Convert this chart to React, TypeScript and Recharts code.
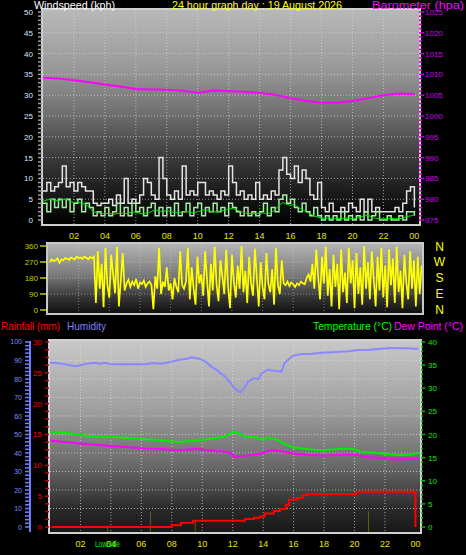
import React from 'react';
import { ComposedChart, Line, Bar, XAxis, YAxis, CartesianGrid } from 'recharts';

const FONT = '"Liberation Sans", Arial, sans-serif';

// ---------------- data ----------------
const hourTicks = [2, 4, 6, 8, 10, 12, 14, 16, 18, 20, 22, 24];
const hourLabels = ['02', '04', '06', '08', '10', '12', '14', '16', '18', '20', '22', '00'];
const gridHours = [2, 4, 6, 8, 10, 12, 14, 16, 18, 20, 22];

// wind, one value every 15 minutes from 00:00
const windStep = 0.25;
const windGust = [
  7, 9, 7, 8, 9, 13, 8, 9, 7, 9, 8, 7, 7, 4, 3.5, 4,
  4, 5, 3.5, 6, 4, 10, 4, 5, 4, 6, 10, 9, 6, 5, 15, 10,
  6, 5, 7, 5, 13, 6, 7, 6, 9, 9, 6, 7, 6, 5, 7, 6,
  13, 9, 6, 7, 5, 6, 5, 9, 5, 6, 5, 7, 6, 12, 15, 11,
  10, 13, 9, 12, 10, 6, 5, 9, 3, 2, 4, 2, 2, 3, 2, 4,
  3, 2, 5, 2, 5, 2, 3, 2, 2, 2, 2, 3, 2, 4, 7, 8, 3,
];
const windSpeed = [
  4, 2, 5, 3, 5, 3, 5, 2, 4, 5, 2, 4, 3, 1, 2, 1,
  3, 1, 2, 4, 1, 3, 1, 4, 2, 3, 1, 3, 4, 1, 3, 1,
  3, 1, 4, 1, 2, 4, 1, 3, 4, 1, 3, 2, 4, 2, 3, 1,
  4, 3, 2, 1, 3, 1, 2, 1, 2, 4, 1, 3, 2, 5, 6, 4,
  5, 3, 2, 4, 2, 1, 3, 1, 0, 1, 0, 1, 0, 2, 0, 1,
  0, 1, 0, 2, 0, 1, 2, 0, 0, 1, 0, 0, 1, 0, 2, 2, 1,
];
const windAvg = [
  4.5, 4.8, 5, 4.7, 4.6, 4.9, 5, 4.5, 4.2, 4.4, 4, 3.8, 3, 2, 1.8, 1.6,
  1.5, 1.6, 1.4, 1.5, 1.7, 1.6, 1.5, 2, 1.8, 1.6, 1.5, 1.7, 2, 2.5, 2.2, 1.9,
  2.4, 2, 1.8, 1.7, 1.9, 2.1, 1.8, 1.7, 2, 2.3, 2.5, 2.2, 1.9, 2, 2.2, 2.4,
  2.6, 2.8, 2.4, 2.1, 1.8, 1.5, 1.6, 1.5, 1.6, 1.7, 1.5, 1.8, 2.5, 3.5, 4.2, 3.8,
  3.5, 3.8, 3, 2.5, 2, 1.5, 1, 0.7, 0.5, 0.4, 0.5, 0.3, 0.4, 0.3, 0.5, 0.4,
  0.3, 0.5, 0.6, 1, 1.2, 0.6, 0.4, 0.3, 0.3, 0.3, 0.4, 0.3, 0.3, 0.4, 0.8, 1, 1.2,
];

const baroHours = [0, 1, 2, 3, 4, 5, 6, 7, 8, 9, 10, 11, 12, 13, 14, 15, 16, 17, 18, 19, 20, 21, 22, 23, 24];
const baroValues = [
  1009.2, 1009.0, 1008.6, 1008.1, 1007.6, 1007.1, 1006.5, 1006.4, 1006.3, 1006.1, 1005.6, 1006.1,
  1006.0, 1005.8, 1005.6, 1005.1, 1004.3, 1003.6, 1003.2, 1003.2, 1003.6, 1004.3, 1005.0, 1005.4, 1005.3,
];

// wind direction, one value every 7.5 minutes from 00:07
const dirStart = 0.125;
const dirStep = 0.125;
const dirSteadyWest = [270, 285, 275, 280, 290, 265, 285, 280, 292, 288, 282, 295, 290, 285, 300, 292, 296, 288, 300, 294, 285, 298, 290, 300];
const dirVariable1 = [40, 330, 120, 260, 15, 350, 140, 70, 310, 200, 95, 355, 20, 170, 320, 110];
const dirCalm1 = [150, 170, 130, 160, 140, 175, 120, 155, 145, 165, 130, 150, 160, 140];
const dirVariable2 = [5, 190, 120, 350, 90, 160, 130, 240, 110, 150, 60, 180, 130, 100, 330, 140, 120, 160];
const dirVariable3 = [
  350, 60, 240, 120, 30, 300, 150, 200, 80, 330, 170, 20, 260, 110, 355, 140, 50, 280, 190, 90,
  340, 130, 10, 310, 160, 70, 250, 120, 360, 100, 220, 40, 300, 150, 80, 345, 180, 20, 270, 130,
  60, 320, 150, 100, 230, 30, 350, 140, 90, 280,
];
const dirCalm2 = [150, 140, 160, 135, 155, 145, 130, 150, 140, 160, 150, 145];
const dirVariable4 = [
  180, 200, 160, 260, 120, 340, 190, 60, 300, 150, 355, 80, 230, 20, 310, 130, 260, 5, 340, 100,
  210, 40, 350, 150, 280, 10, 320, 90, 240, 30, 360, 120, 270, 60, 330, 180, 20, 300, 110, 350,
  70, 250, 15, 340, 140, 290, 40, 355, 100, 220, 10, 310, 160, 60, 330, 120, 280, 20, 300, 90, 250,
];
const dirTicks = [0, 90, 180, 270, 360];
const dirLetters = ['N', 'E', 'S', 'W', 'N'];

const humHours = [0, 0.5, 1, 1.5, 1.8, 2.2, 2.9, 3.3, 3.6, 4, 5, 6.2, 6.8, 7.3, 7.8, 8.4, 9, 9.3, 9.8, 10.2, 10.6, 11, 11.5, 11.8, 12.1, 12.5, 12.8, 13, 13.4, 13.7, 13.9, 14.3, 14.7, 15.2, 15.4, 15.9, 16.5, 17.2, 17.8, 18.5, 19.4, 20.2, 21, 22.2, 23, 24, 24.2];
const humValues = [88.8, 88.5, 88, 87.2, 87, 88, 88.8, 88.2, 88.8, 88, 88, 88, 88.6, 88.2, 89, 90.3, 91, 91.7, 91, 89.5, 86.7, 84.5, 81.2, 78.5, 75, 72.8, 75.5, 78.6, 80.4, 80, 83, 85, 84.5, 84, 88.5, 92.4, 93.5, 93.6, 94.2, 94.5, 94.8, 95.7, 95.8, 96.6, 96.7, 96.4, 96.3];

const tempHours = [0, 1, 1.8, 2.5, 2.9, 4, 5, 6.2, 7, 8.4, 9.2, 10, 10.8, 11.4, 11.8, 12.1, 12.5, 12.8, 13.6, 14, 14.3, 14.9, 15.5, 16, 17, 17.8, 18.8, 19.4, 20, 20.4, 21.5, 22.6, 23.3, 23.7, 24.2];
const tempValues = [20.5, 20.4, 20, 19.7, 19.5, 19.5, 19.3, 19, 18.8, 18.4, 18.6, 18.8, 19.2, 19.5, 20.2, 20.6, 20.1, 19.5, 19.4, 18.8, 19.4, 18.9, 17.8, 17.2, 16.8, 16.6, 16.8, 17, 16.8, 16.3, 16, 15.6, 15.5, 15.7, 16];

const dewHours = [0, 1.8, 3, 4, 5, 6.2, 7.5, 8.4, 9.7, 10.5, 11.4, 11.9, 12.1, 12.8, 13.3, 14, 14.5, 15.2, 16, 17, 18, 19, 20.1, 20.9, 22, 22.7, 23.5, 24.2];
const dewValues = [18.7, 18.1, 17.8, 17.5, 17.3, 17, 16.8, 16.6, 16.9, 16.6, 16.3, 16, 15.2, 15.4, 15.6, 16, 16.6, 16.4, 15.9, 15.6, 15.4, 15.6, 15.6, 15.1, 14.9, 14.6, 14.7, 14.8];

const rainHours = [0.1, 8, 8.6, 9.4, 12.8, 13.4, 13.8, 14.1, 14.7, 15.1, 15.5, 15.7, 16.2, 16.6, 16.9, 20.1, 23.95, 24];
const rainValues = [0, 0.3, 0.7, 1, 1.3, 1.5, 1.7, 2.2, 2.6, 2.9, 3.6, 4.4, 4.7, 5.2, 5.35, 5.7, 5.7, 0];

const rateHours = [3.8, 6.58, 9.53, 20.93];
const rateTops = [0.3, 2.5, 1.1, 2.5];
const rateBase = -0.75;

// ---------------- derived tables ----------------
const pairs = (hs: number[], vs: number[]) => hs.map((h, i) => ({ h, v: vs[i] }));
const stepped = (start: number, step: number, vs: number[]) => vs.map((v, i) => ({ h: start + i * step, v }));

const gustData = stepped(0, windStep, windGust);
const speedData = stepped(0, windStep, windSpeed);
const avgData = stepped(0, windStep, windAvg);
const baroData = pairs(baroHours, baroValues);
const dirData = stepped(dirStart, dirStep, [
  ...dirSteadyWest, ...dirVariable1, ...dirCalm1, ...dirVariable2, ...dirVariable3, ...dirCalm2, ...dirVariable4,
]);
const humData = pairs(humHours, humValues);
const tempData = pairs(tempHours, tempValues);
const dewData = pairs(dewHours, dewValues);
const rainData = pairs(rainHours, rainValues);
const rateData = rateHours.map((h, i) => ({ h, r: [rateBase, rateTops[i]] }));

const range = (a: number, b: number, s: number) => {
  const out: number[] = [];
  for (let v = a; v <= b + 1e-9; v += s) out.push(Math.round(v * 1000) / 1000);
  return out;
};
const windTicks = range(0, 50, 1);
const baroTicks = range(975, 1025, 1);
const humTicks = range(0, 100, 2);
const rainTicks = range(0, 30, 1.25);
const tempTicks = range(0, 40, 1);
// horizontal grid of the lower panel: every 10 % humidity = every 3 mm of rain
const lowerGridRain = [3, 6, 9, 12, 15, 18, 21, 24, 27];

// ---------------- tick renderers ----------------
const hourLabel = (v: number) => hourLabels[hourTicks.indexOf(v)] ?? '';

const TopXTick = (p: any) => (
  <text x={p.x} y={p.y + 15} textAnchor="middle" fontSize={9} fill="#e6e600" fontFamily={FONT}>{hourLabel(p.payload.value)}</text>
);
const BottomXTick = (p: any) => (
  <text x={p.x} y={p.y + 14.5} textAnchor="middle" fontSize={9} fill="#e6e600" fontFamily={FONT}>{hourLabel(p.payload.value)}</text>
);
const WindTick = (p: any) => {
  const v = p.payload.value;
  return (
    <g>
      <line x1={p.x - 5} x2={p.x - 1} y1={p.y} y2={p.y} stroke="#9c9c9c" strokeWidth={1.5} />
      {v % 5 === 0 && <text x={p.x - 10} y={p.y + 3} textAnchor="end" fontSize={8} fill="#dfe8ff" fontFamily={FONT}>{v}</text>}
    </g>
  );
};
const BaroTick = (p: any) => {
  const v = p.payload.value;
  const major = v % 5 === 0;
  return (
    <g>
      <line x1={p.x} x2={p.x + (major ? 5 : 3)} y1={p.y} y2={p.y} stroke="#d000d0" strokeWidth={1.5} />
      {major && <text x={p.x + 6} y={p.y + 3} textAnchor="start" fontSize={8} fill="#cc00ee" fontFamily={FONT}>{v}</text>}
    </g>
  );
};
const DirTick = (p: any) => (
  <g>
    <line x1={p.x - 8} x2={p.x - 2} y1={p.y} y2={p.y} stroke="#c8c800" strokeWidth={1.5} />
    <text x={p.x - 10} y={p.y + 3} textAnchor="end" fontSize={8} fill="#c8c800" fontFamily={FONT}>{p.payload.value}</text>
  </g>
);
const DirLetterTick = (p: any) => (
  <text x={p.x + 17.5} y={p.y + 4.5} textAnchor="middle" fontSize={12} fill="#ffff00" fontFamily={FONT}>
    {dirLetters[dirTicks.indexOf(p.payload.value)]}
  </text>
);
const HumTick = (p: any) => {
  const v = p.payload.value;
  const major = v % 10 === 0;
  return (
    <g>
      <line x1={p.x - 5} x2={p.x} y1={p.y} y2={p.y} stroke="#6f7fff" strokeWidth={1.5} />
      {major && <text x={p.x - 8} y={p.y + 2.5} textAnchor="end" fontSize={7} fill="#7f8fff" fontFamily={FONT}>{v}</text>}
    </g>
  );
};
const RainTick = (p: any) => {
  const v = p.payload.value;
  const major = v % 5 === 0;
  return (
    <g>
      <line x1={p.x - 5} x2={p.x - 1} y1={p.y} y2={p.y} stroke="#c00000" strokeWidth={1.5} />
      {major && <text x={p.x - 8} y={p.y + 3} textAnchor="end" fontSize={8} fill="#ff0000" fontFamily={FONT}>{v}</text>}
    </g>
  );
};
const TempTick = (p: any) => {
  const v = p.payload.value;
  const major = v % 5 === 0;
  return (
    <g>
      <line x1={p.x + 1} x2={p.x + (major ? 5 : 3)} y1={p.y} y2={p.y} stroke="#00c000" strokeWidth={1.5} />
      {major && <text x={p.x + 8} y={p.y + 3} textAnchor="start" fontSize={8} fill="#00ee00" fontFamily={FONT}>{v}</text>}
    </g>
  );
};

const panel = (left: number, top: number, w: number, h: number, bg: string, border: string): React.CSSProperties => ({
  position: 'absolute', left: left - 2, top: top - 2, width: w, height: h,
  border: `2px solid ${border}`, background: bg, backgroundClip: 'padding-box',
});

const Title = ({ x, y, w, color, children, anchor }: any) => (
  <text x={x} y={y} fill={color} fontSize={11} fontFamily={FONT} textLength={w} lengthAdjust="spacingAndGlyphs" textAnchor={anchor || 'start'}>{children}</text>
);

export default function App() {
  return (
    <div style={{ position: 'absolute', left: 0, top: 0, width: 466, height: 555, background: '#000', overflow: 'hidden' }}>
      {/* ---------- top panel: wind speed & barometer ---------- */}
      <div style={panel(43, 10, 376, 214, 'linear-gradient(#b8b8b8 0%, #989898 28%, #707070 48%, #383838 70%, #121212 90%, #000 100%)', '#cfcfcf')} />
      <div style={{ position: 'absolute', left: 0, top: 0 }}>
        <ComposedChart width={466} height={245} margin={{ top: 10, right: 0, bottom: 0, left: 0 }}>
          <XAxis type="number" dataKey="h" domain={[0, 24.3]} allowDataOverflow ticks={hourTicks} interval={0}
            height={21} tickSize={0} tickMargin={0} axisLine={false} tick={TopXTick} />
          <YAxis type="number" orientation="left" width={43} domain={[-0.96, 50.48]} allowDataOverflow ticks={windTicks}
            interval={0} tickSize={0} tickMargin={0} axisLine={false} tick={WindTick} />
          <YAxis yAxisId="baro" type="number" orientation="right" width={47} domain={[974.04, 1025.48]} allowDataOverflow
            ticks={baroTicks} interval={0} tickSize={0} tickMargin={0} axisLine={false} tick={BaroTick} />
          <CartesianGrid horizontalValues={[5, 10, 15, 20, 25, 30, 35, 40, 45]} verticalValues={gridHours}
            stroke="#d8d8d8" strokeOpacity={0.7} strokeDasharray="1 2" />
          <Line data={baroData} dataKey="v" yAxisId="baro" stroke="#ff00ff" strokeWidth={2} dot={false} isAnimationActive={false} />
          <Line data={gustData} dataKey="v" type="stepAfter" stroke="#e4e4e4" strokeWidth={1.5} dot={false} isAnimationActive={false} />
          <Line data={speedData} dataKey="v" type="stepAfter" stroke="#a8eca8" strokeWidth={1.5} dot={false} isAnimationActive={false} />
          <Line data={avgData} dataKey="v" stroke="#00e000" strokeWidth={1} dot={false} isAnimationActive={false} />
        </ComposedChart>
      </div>

      {/* ---------- middle panel: wind direction ---------- */}
      <div style={panel(48, 244, 374, 69, 'linear-gradient(#b4b4b4 0%, #7a7a7a 45%, #303030 80%, #101010 100%)', '#c8c8c8')} />
      <div style={{ position: 'absolute', left: 0, top: 240 }}>
        <ComposedChart width={466} height={80} margin={{ top: 4, right: 0, bottom: 7, left: 0 }}>
          <XAxis type="number" dataKey="h" domain={[0, 24.4]} allowDataOverflow hide />
          <YAxis type="number" orientation="left" width={48} domain={[-16.9, 371.25]} allowDataOverflow ticks={dirTicks}
            interval={0} tickSize={0} tickMargin={0} axisLine={false} tick={DirTick} />
          <YAxis yAxisId="letters" type="number" orientation="right" width={44} domain={[-16.9, 371.25]} allowDataOverflow
            ticks={dirTicks} interval={0} tickSize={0} tickMargin={0} axisLine={false} tick={DirLetterTick} />
          <CartesianGrid horizontalValues={[90, 180, 270]} verticalValues={gridHours}
            stroke="#d8d8d8" strokeOpacity={0.5} strokeDasharray="1 2" />
          <Line data={dirData} dataKey="v" stroke="#ffff00" strokeWidth={1.7} dot={false} isAnimationActive={false} />
        </ComposedChart>
      </div>

      {/* ---------- bottom panel ---------- */}
      <div style={panel(50, 341, 370, 191, 'linear-gradient(#c8c8c8 0%, #a0a0a0 35%, #6a6a6a 65%, #2a2a2a 88%, #181818 100%)', '#d0d0d0')} />
      <div style={{ position: 'absolute', left: 0, top: 335 }}>
        <ComposedChart width={466} height={220} data={rateData} margin={{ top: 6, right: 0, bottom: 0, left: 0 }}>
          <XAxis type="number" dataKey="h" domain={[0, 24.3]} allowDataOverflow ticks={hourTicks} interval={0}
            height={23} tickSize={0} tickMargin={0} axisLine={false} tick={BottomXTick} />
          <YAxis type="number" orientation="left" width={20} domain={[-0.81, 30.16]} allowDataOverflow
            ticks={rainTicks} interval={0} tickSize={0} tickMargin={0} axisLine={false} tick={RainTick} />
          <YAxis yAxisId="hum" type="number" orientation="left" width={30} domain={[-2.7, 100.54]} allowDataOverflow
            ticks={humTicks} interval={0} tickSize={0} tickMargin={0} axisLine={{ stroke: '#6f7fff', strokeWidth: 2 }} tick={HumTick} />
          <YAxis yAxisId="temp" type="number" orientation="right" width={46} domain={[-1.08, 40.22]} allowDataOverflow
            ticks={tempTicks} interval={0} tickSize={0} tickMargin={0} axisLine={false} tick={TempTick} />
          <CartesianGrid horizontalValues={lowerGridRain} verticalValues={gridHours}
            stroke="#e0e0e0" strokeOpacity={0.7} strokeDasharray="1 2" />
          <Bar dataKey="r" barSize={2} fill="#b8b800" isAnimationActive={false} />
          <Line data={humData} yAxisId="hum" dataKey="v" stroke="#8888ff" strokeWidth={2} dot={false} isAnimationActive={false} />
          <Line data={tempData} yAxisId="temp" dataKey="v" stroke="#00ee00" strokeWidth={2} dot={false} isAnimationActive={false} />
          <Line data={dewData} yAxisId="temp" dataKey="v" stroke="#ff00ff" strokeWidth={2} dot={false} isAnimationActive={false} />
          <Line data={rainData} dataKey="v" type="stepAfter" stroke="#ff0000" strokeWidth={2} dot={false} isAnimationActive={false} />
        </ComposedChart>
      </div>

      {/* ---------- titles ---------- */}
      <svg width={466} height={555} style={{ position: 'absolute', left: 0, top: 0, pointerEvents: 'none' }}>
        <Title x={34} y={9} w={81} color="#ffffff">Windspeed (kph)</Title>
        <Title x={172} y={9} w={170} color="#ffff00">24 hour graph day : 19 August 2026</Title>
        <Title x={372} y={9} w={92} color="#ff00ff">Barometer (hpa)</Title>
        <Title x={1} y={330} w={59} color="#ff0000">Rainfall (mm)</Title>
        <Title x={67} y={330} w={39} color="#8080ff">Humidity</Title>
        <Title x={313} y={330} w={79} color="#00ff00">Temperature (°C)</Title>
        <Title x={394} y={330} w={69} color="#ff00ff">Dew Point (°C)</Title>
        <text x={95} y={546.5} fill="#00ee00" fontSize={9} fontFamily={FONT} textLength={25} lengthAdjust="spacingAndGlyphs">LowSide</text>
      </svg>
    </div>
  );
}
